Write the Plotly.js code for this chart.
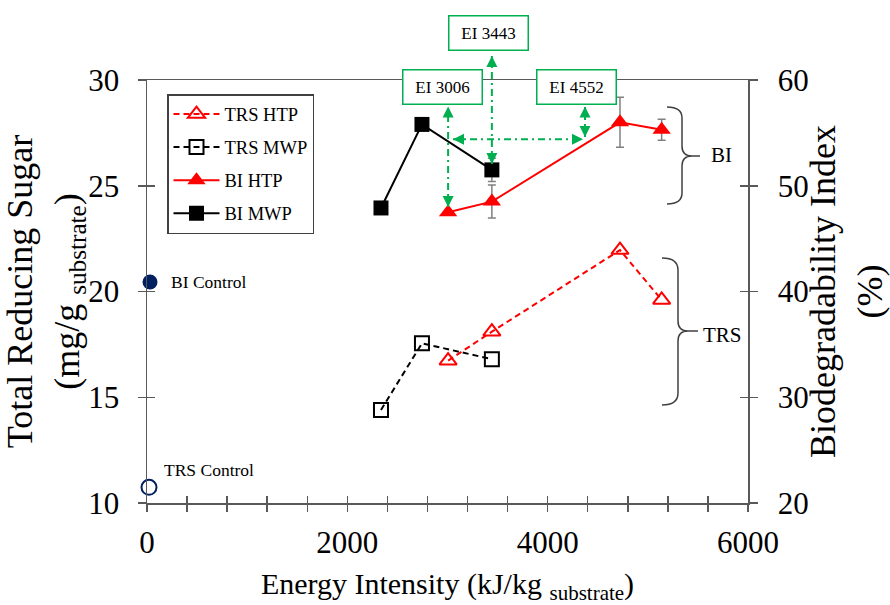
<!DOCTYPE html>
<html><head><meta charset="utf-8">
<script src="https://cdn.plot.ly/plotly-3.0.1.min.js"></script>
<style>html,body{margin:0;padding:0;background:#fff}#chart{width:890px;height:605px}</style>
</head><body><div id="chart"></div>
<script>
// ---- data ----
const energyMWP = [2336, 2745, 3443];
const energyHTP = [3006, 3443, 4722, 5138];
const trsMWP = [14.4, 17.55, 16.8];
const trsHTP = [16.73, 18.1, 21.96, 19.6];
const biMWP = [47.9, 55.8, 51.5];
const biMWPerr = [0, 0, 1.1];
const biHTP = [47.5, 48.5, 56.0, 55.3];
const biHTPerr = [0, 1.56, 2.36, 1.0];
const biControlEnergy = [30];
const biControl = [40.9];
const trsControlEnergy = [20];
const trsControl = [10.74];
const xTickVals = [0,400,800,1200,1600,2000,2400,2800,3200,3600,4000,4400,4800,5200,5600,6000];
const xTickText = ['0','','','','','2000','','','','','4000','','','','','6000'];
const leftTickVals = [10,15,20,25,30];
const rightTickVals = [20,30,40,50,60];
const eiLabels = ['EI 3006','EI 3443','EI 4552'];

// ---- styling ----
const FONT = 'Liberation Serif';
const RED = '#FF0000', BLACK = '#000000', NAVY = '#002060', GREEN = '#00B050', AX = '#595959';
const ML = 147, MR = 142, MT = 80, MB = 102, W = 890, H = 605;
const PW = W - ML - MR, PH = H - MT - MB;
const P = (px, py) => [(px - ML) / PW, (H - MB - py) / PH];

const traces = [
  {x: energyHTP, y: trsHTP, name: 'TRS HTP', type: 'scatter', mode: 'lines+markers', yaxis: 'y',
   legendgroup: 'a',
   line: {color: RED, width: 2, dash: '6px,4px'},
   marker: {symbol: 'triangle-up-open', size: 15, color: RED, line: {width: 2, color: RED}}},
  {x: energyMWP, y: trsMWP, name: 'TRS MWP', type: 'scatter', mode: 'lines+markers', yaxis: 'y',
   legendgroup: 'b',
   line: {color: BLACK, width: 2, dash: '6px,4px'},
   marker: {symbol: 'square-open', size: 14, color: BLACK, line: {width: 2, color: BLACK}}},
  {x: energyHTP, y: biHTP, name: 'BI HTP', type: 'scatter', mode: 'lines+markers', yaxis: 'y2',
   legendgroup: 'c',
   line: {color: RED, width: 2},
   marker: {symbol: 'triangle-up', size: 16, color: RED},
   error_y: {type: 'data', array: biHTPerr, visible: true, color: '#808080', thickness: 1.5, width: 4}},
  {x: energyMWP, y: biMWP, name: 'BI MWP', type: 'scatter', mode: 'lines+markers', yaxis: 'y2',
   legendgroup: 'd',
   line: {color: BLACK, width: 2},
   marker: {symbol: 'square', size: 15, color: BLACK},
   error_y: {type: 'data', array: biMWPerr, visible: true, color: '#808080', thickness: 1.5, width: 4}},
  {x: biControlEnergy, y: biControl, name: 'BI Control', type: 'scatter', mode: 'markers', yaxis: 'y2',
   showlegend: false, cliponaxis: false,
   marker: {symbol: 'circle', size: 15, color: NAVY}},
  {x: trsControlEnergy, y: trsControl, name: 'TRS Control', type: 'scatter', mode: 'markers', yaxis: 'y',
   showlegend: false, cliponaxis: false,
   marker: {symbol: 'circle-open', size: 15, color: NAVY, line: {width: 2, color: NAVY}}},
  // invisible trace that carries the second (inside-tick) subplot stacked on the first
  {x: [1000], y: [20], xaxis: 'x2', yaxis: 'y3', mode: 'markers', marker: {opacity: 0}, showlegend: false, hoverinfo: 'skip', type: 'scatter'}
];

const tickCommon = {ticklen: 8, tickwidth: 1.5, tickcolor: AX, showgrid: false, zeroline: false};

// arrow geometry (annotation positions)
const arrowH = 54.39, arrowHx0 = 3055, arrowHx1 = 4353, arrow4x = 4373;
const boxBottomBI = 57.5;
const DASHDOT = '7px,4px,2px,4px';

const shapes = [
  {type: 'line', xref: 'x', yref: 'y2', x0: energyHTP[0], x1: energyHTP[0], y0: 48.0, y1: boxBottomBI,
   line: {color: GREEN, width: 2, dash: DASHDOT}},
  {type: 'line', xref: 'x', yref: 'paper', x0: energyHTP[1], x1: energyHTP[1], y0: (52.06 - 20) / 40, y1: 1.0567,
   line: {color: GREEN, width: 2, dash: DASHDOT}},
  {type: 'line', xref: 'x', yref: 'y2', x0: arrowHx0, x1: arrowHx1, y0: arrowH, y1: arrowH,
   line: {color: GREEN, width: 2, dash: DASHDOT}},
  {type: 'line', xref: 'x', yref: 'y2', x0: arrow4x, x1: arrow4x, y0: 54.6, y1: boxBottomBI,
   line: {color: GREEN, width: 2, dash: DASHDOT}}
];

function bracePath(pts) {
  return pts.map(s => s[0] + s.slice(1).map(p => { const q = P(p[0], p[1]); return q[0] + ',' + q[1]; }).join(' ')).join(' ');
}
const braceBI = bracePath([
  ['M', [667, 107]], ['Q', [682, 107], [682, 118]], ['L', [682, 146]], ['Q', [682, 156], [692, 156]], ['L', [700, 156]],
  ['M', [692, 156]], ['Q', [682, 156], [682, 166]], ['L', [682, 193]], ['Q', [682, 204], [667, 204]]
]);
const braceTRS = bracePath([
  ['M', [662, 258]], ['Q', [678, 258], [678, 270]], ['L', [678, 321]], ['Q', [678, 331], [688, 331]], ['L', [698, 331]],
  ['M', [688, 331]], ['Q', [678, 331], [678, 341]], ['L', [678, 393]], ['Q', [678, 405], [662, 405]]
]);
shapes.push({type: 'path', xref: 'paper', yref: 'paper', path: braceBI, line: {color: '#404040', width: 1.5}});
shapes.push({type: 'path', xref: 'paper', yref: 'paper', path: braceTRS, line: {color: '#404040', width: 1.5}});

function head(x, y, ax, ay, xref, yref) {
  return {x: x, y: y, xref: xref, yref: yref, ax: ax, ay: ay, text: '', showarrow: true,
          arrowhead: 2, arrowsize: 1.1, arrowwidth: 2, arrowcolor: GREEN, standoff: 0};
}
const boxStyle = {showarrow: false, bgcolor: '#ffffff', bordercolor: GREEN, borderwidth: 1.5, borderpad: 3,
                  width: 72, height: 27, xanchor: 'center', yanchor: 'middle',
                  font: {family: FONT, size: 17, color: BLACK}};
const annotations = [
  Object.assign({x: 2950, y: 0.9835, xref: 'x', yref: 'paper', text: eiLabels[0]}, boxStyle),
  Object.assign({x: 3414, y: 1.110, xref: 'x', yref: 'paper', text: eiLabels[1]}, boxStyle),
  Object.assign({x: 4283, y: 0.9846, xref: 'x', yref: 'paper', text: eiLabels[2]}, boxStyle),
  head(energyHTP[0], boxBottomBI, 0, 10, 'x', 'y2'),
  head(energyHTP[0], 48.0, 0, -10, 'x', 'y2'),
  head(energyHTP[1], 1.0567, 0, 10, 'x', 'paper'),
  head(energyHTP[1], 52.06, 0, -10, 'x', 'y2'),
  head(arrowHx0, arrowH, 10, 0, 'x', 'y2'),
  head(arrowHx1, arrowH, -10, 0, 'x', 'y2'),
  head(arrow4x, boxBottomBI, 0, 10, 'x', 'y2'),
  head(arrow4x, 54.6, 0, -10, 'x', 'y2'),
  {x: biControlEnergy[0], y: biControl[0], xref: 'x', yref: 'y2', text: 'BI Control', showarrow: false,
   xanchor: 'left', xshift: 19, font: {family: FONT, size: 17.5, color: BLACK}},
  {x: trsControlEnergy[0], y: trsControl[0], xref: 'x', yref: 'y', text: 'TRS Control', showarrow: false,
   xanchor: 'left', xshift: 13, yshift: 17, font: {family: FONT, size: 17.5, color: BLACK}},
  {x: P(721, 155)[0], y: P(721, 155)[1], xref: 'paper', yref: 'paper', text: 'BI', showarrow: false,
   xanchor: 'center', yanchor: 'middle', font: {family: FONT, size: 21, color: BLACK}},
  {x: P(722, 335)[0], y: P(722, 335)[1], xref: 'paper', yref: 'paper', text: 'TRS', showarrow: false,
   xanchor: 'center', yanchor: 'middle', font: {family: FONT, size: 21, color: BLACK}}
];

const layout = {
  width: W, height: H,
  margin: {l: ML, r: MR, t: MT, b: MB},
  paper_bgcolor: '#ffffff', plot_bgcolor: 'rgba(0,0,0,0)',
  font: {family: FONT, color: BLACK},
  showlegend: true,
  legend: {x: P(167, 94)[0], y: P(167, 94)[1], xanchor: 'left', yanchor: 'top',
           bgcolor: '#ffffff', bordercolor: '#404040', borderwidth: 1.5,
           font: {family: FONT, size: 18.5, color: BLACK}, traceorder: 'grouped', tracegroupgap: 6, itemwidth: 46},
  xaxis: Object.assign({range: [0, 6000], tickmode: 'array', tickvals: xTickVals, ticktext: xTickText,
           ticks: 'outside', showline: true, linecolor: AX, linewidth: 1.5, mirror: true,
           tickfont: {family: FONT, size: 31, color: BLACK}, ticklabelstandoff: 4,
           title: {text: 'Energy Intensity (kJ/kg <sub>substrate</sub>)', font: {family: FONT, size: 30, color: BLACK}, standoff: 32}},
           tickCommon, {ticklen: 7}),
  xaxis2: Object.assign({domain: [0, 1], anchor: 'y3', range: [0, 6000], tickmode: 'array', tickvals: xTickVals,
           ticks: 'inside', showticklabels: false, showline: false}, tickCommon, {ticklen: 7}),
  yaxis: Object.assign({range: [10, 30], tickmode: 'array', tickvals: leftTickVals,
           ticks: 'outside', showline: true, linecolor: AX, linewidth: 1.5,
           tickfont: {family: FONT, size: 31, color: BLACK}, ticklabelstandoff: 12,
           title: {text: 'Total Reducing Sugar<br>(mg/g <sub>substrate</sub>)', font: {family: FONT, size: 36, color: BLACK}, standoff: 10}},
           tickCommon),
  yaxis3: Object.assign({domain: [0, 1], anchor: 'x2', range: [10, 30], tickmode: 'array', tickvals: leftTickVals,
           ticks: 'inside', mirror: 'ticks', showticklabels: false, showline: false}, tickCommon),
  yaxis2: Object.assign({range: [20, 60], tickmode: 'array', tickvals: rightTickVals, overlaying: 'y', anchor: 'x', side: 'right',
           ticks: 'outside', showline: true, linecolor: AX, linewidth: 1.5,
           tickfont: {family: FONT, size: 31, color: BLACK}, ticklabelstandoff: 14,
           title: {text: 'Biodegradability Index<br>(%)', font: {family: FONT, size: 36, color: BLACK}, standoff: 16}},
           tickCommon),
  shapes: shapes,
  annotations: annotations
};

Plotly.newPlot('chart', traces, layout, {displayModeBar: false, staticPlot: true});
</script>
</body></html>
